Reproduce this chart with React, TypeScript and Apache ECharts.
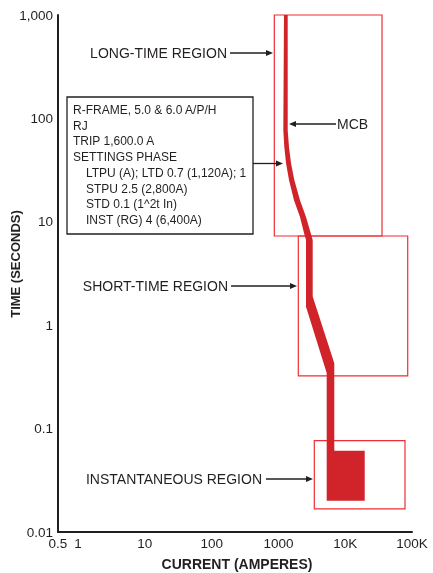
import React, { useEffect, useRef } from 'react';
import * as echarts from 'echarts';

// Axis ticks
const yTicks = [0.01, 0.1, 1, 10, 100, 1000];
const yTickLabels = ['0.01', '0.1', '1', '10', '100', '1,000'];
const xTicks = [0.5, 1, 10, 100, 1000, 10000, 100000];
const xTickLabels = ['0.5', '1', '10', '100', '1000', '10K', '100K'];

// MCB trip band, [current (A), time (s)] — left (minimum) edge, top to bottom
const bandLeft = [
  [1211, 1000], [1183, 77], [1224, 53], [1298, 37], [1439, 25.4], [1710, 16.2],
  [2103, 11.1], [2414, 7.8], [2587, 6.67], [2587, 1.51], [5281, 0.345], [5281, 0.02],
];
// right (maximum) edge, top to bottom
const bandRight = [
  [1376, 1000], [1376, 77], [1439, 53], [1542, 37], [1727, 25.4], [2103, 16.2],
  [2587, 11.1], [3040, 7.8], [3258, 6.67], [3258, 1.89], [6860, 0.428], [6860, 0.061],
  [19580, 0.061], [19580, 0.02],
];

// Region boxes
const regionNames = ['LONG-TIME REGION', 'SHORT-TIME REGION', 'INSTANTANEOUS REGION'];
const regionCurrentMin = [867, 1983, 3443];
const regionCurrentMax = [35560, 86270, 78550];
const regionTimeMin = [7.29, 0.323, 0.0167];
const regionTimeMax = [1000, 7.29, 0.0764];

// Settings box text
const infoLines = [
  'R-FRAME, 5.0 & 6.0 A/P/H',
  'RJ',
  'TRIP 1,600.0 A',
  'SETTINGS PHASE',
  'LTPU (A); LTD 0.7 (1,120A); 1',
  'STPU 2.5 (2,800A)',
  'STD 0.1 (1^2t In)',
  'INST (RG) 4 (6,400A)',
];
const infoIndent = [0, 0, 0, 0, 1, 1, 1, 1];

const INK = '#231f20';
const BAND = '#d1232a';
const BOX = '#ee2e35';
const FF = '"Liberation Sans", Arial, Helvetica, sans-serif';

function fmt(v: number, ticks: number[], labels: string[]) {
  for (let i = 0; i < ticks.length; i++) {
    if (Math.abs(Math.log10(v) - Math.log10(ticks[i])) < 1e-6) return labels[i];
  }
  return '';
}

function arrowRight(x1: number, tip: number, y: number): any[] {
  return [
    { type: 'line', shape: { x1, y1: y, x2: tip - 5, y2: y }, style: { stroke: INK, lineWidth: 1.3 }, z: 10 },
    { type: 'polygon', shape: { points: [[tip, y], [tip - 7, y - 3], [tip - 7, y + 3]] }, style: { fill: INK }, z: 10 },
  ];
}
function arrowLeft(x1: number, tip: number, y: number): any[] {
  return [
    { type: 'line', shape: { x1, y1: y, x2: tip + 5, y2: y }, style: { stroke: INK, lineWidth: 1.3 }, z: 10 },
    { type: 'polygon', shape: { points: [[tip, y], [tip + 7, y - 3], [tip + 7, y + 3]] }, style: { fill: INK }, z: 10 },
  ];
}

function label(text: string, x: number, y: number, align: string, font: string): any {
  return {
    type: 'text', x, y, z: 10,
    style: { text, fill: INK, font, textAlign: align, textVerticalAlign: 'middle' },
  };
}

export default function App() {
  const ref = useRef<HTMLDivElement>(null);
  useEffect(() => {
    if (!ref.current) return;
    const chart = echarts.init(ref.current, undefined, { renderer: 'svg' });

    const regionData = regionNames.map((n, i) => ({
      name: n,
      value: [regionCurrentMin[i], regionCurrentMax[i], regionTimeMin[i], regionTimeMax[i]],
    }));

    const graphic: any[] = [];
    // axis titles
    graphic.push(label('CURRENT (AMPERES)', 237, 564, 'center', `bold 14px ${FF}`));
    graphic.push({
      type: 'text', x: 15, y: 264, rotation: Math.PI / 2, z: 10,
      style: { text: 'TIME (SECONDS)', fill: INK, font: `bold 13px ${FF}`, textAlign: 'center', textVerticalAlign: 'middle' },
    });
    // region annotations
    graphic.push(label(regionNames[0], 227, 53, 'right', `14px ${FF}`));
    graphic.push(...arrowRight(230, 273, 53));
    graphic.push(label(regionNames[1], 228, 286, 'right', `14px ${FF}`));
    graphic.push(...arrowRight(231, 297, 286));
    graphic.push(label(regionNames[2], 262, 479, 'right', `14px ${FF}`));
    graphic.push(...arrowRight(266, 313, 479));
    // MCB
    graphic.push(label('MCB', 337, 124, 'left', `14px ${FF}`));
    graphic.push(...arrowLeft(336, 289, 124));
    // settings box
    graphic.push({
      type: 'rect', z: 9,
      shape: { x: 67, y: 97, width: 186, height: 137 },
      style: { fill: '#fff', stroke: INK, lineWidth: 1.3 },
    });
    infoLines.forEach((t, i) => {
      graphic.push(label(t, infoIndent[i] ? 86 : 73, 110 + i * 15.7, 'left', `12px ${FF}`));
    });
    graphic.push(...arrowRight(253, 283, 163.5));

    chart.setOption({
      animation: false,
      grid: { left: 58, right: 21, top: 15, bottom: 41 },
      xAxis: {
        type: 'log', logBase: 10, min: 0.5, max: 100000,
        axisLine: { show: true, lineStyle: { color: INK, width: 2 } },
        axisTick: { show: false },
        splitLine: { show: false },
        minorTick: { show: false },
        axisLabel: {
          color: INK, fontSize: 13.5, fontFamily: FF, margin: 4,
          showMinLabel: true, showMaxLabel: true, hideOverlap: false,
          formatter: (v: number) => fmt(v, xTicks, xTickLabels),
        },
      },
      yAxis: {
        type: 'log', logBase: 10, min: 0.01, max: 1000,
        axisLine: { show: true, lineStyle: { color: INK, width: 2 } },
        axisTick: { show: false },
        splitLine: { show: false },
        axisLabel: {
          color: INK, fontSize: 13.5, fontFamily: FF, margin: 5,
          showMinLabel: true, showMaxLabel: true,
          formatter: (v: number) => fmt(v, yTicks, yTickLabels),
        },
      },
      series: [
        {
          type: 'custom',
          name: 'Regions',
          z: 2,
          encode: { x: [0, 1], y: [2, 3] },
          data: regionData,
          renderItem: (params: any, api: any) => {
            const p1 = api.coord([api.value(0), api.value(3)]);
            const p2 = api.coord([api.value(1), api.value(2)]);
            return {
              type: 'rect',
              shape: { x: p1[0], y: p1[1], width: p2[0] - p1[0], height: p2[1] - p1[1] },
              style: { fill: 'none', stroke: BOX, lineWidth: 1.2 },
            };
          },
        },
        {
          type: 'custom',
          name: 'MCB',
          z: 3,
          encode: { x: 0, y: 1 },
          data: [bandLeft[0]],
          renderItem: (params: any, api: any) => {
            const pts = [...bandLeft, ...bandRight.slice().reverse()].map((p) => api.coord(p));
            return { type: 'polygon', shape: { points: pts }, style: { fill: BAND } };
          },
        },
      ],
      graphic,
    });
    return () => chart.dispose();
  }, []);
  return <div ref={ref} style={{ position: 'fixed', left: 0, top: 0, width: 433, height: 573 }} />;
}
